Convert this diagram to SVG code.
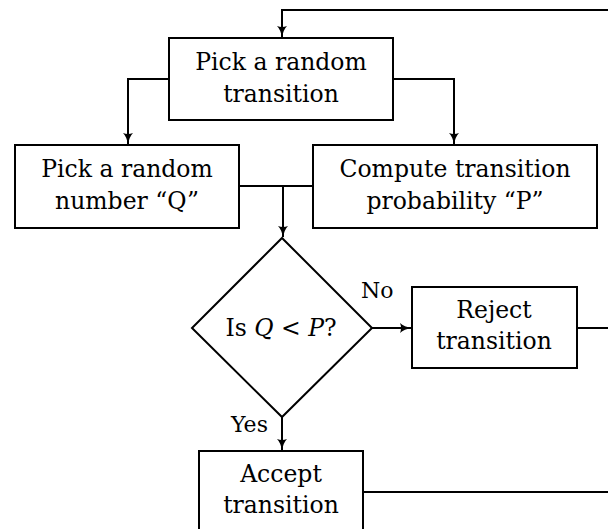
<svg xmlns="http://www.w3.org/2000/svg" width="608" height="529" viewBox="0 0 608 529">
<style>
.box{fill:#fff;stroke:#000;stroke-width:2}
.t{font-family:"DejaVu Serif","Liberation Serif",serif;font-size:23.5px;fill:#000;text-anchor:middle}
.lbl{font-family:"DejaVu Serif","Liberation Serif",serif;font-size:22px;fill:#000}
.c{fill:none;stroke:#000;stroke-width:2}
</style>
<defs>
<marker id="ar" viewBox="0 0 12 10" refX="11" refY="5" markerWidth="12" markerHeight="10" markerUnits="userSpaceOnUse" orient="auto">
<path d="M0,0 Q4,4 12,5 Q4,6 0,10 Q2,5 0,0 Z" fill="#000"/>
</marker>
</defs>
<g id="connectors">
<path class="c" d="M608,10 H282 V37" marker-end="url(#ar)"/>
<path class="c" d="M169,79 H128 V144" marker-end="url(#ar)"/>
<path class="c" d="M393,79 H454 V144" marker-end="url(#ar)"/>
<path class="c" d="M239,186 H313"/>
<path class="c" d="M283,186 V237" marker-end="url(#ar)"/>
<path class="c" d="M372,328 H411" marker-end="url(#ar)"/>
<path class="c" d="M577,328 H608"/>
<path class="c" d="M282,417 V450" marker-end="url(#ar)"/>
<path class="c" d="M363,492 H608"/>
<text class="lbl" x="361" y="298">No</text>
<text class="lbl" x="231" y="432">Yes</text>
</g>
<g id="pick-transition">
<rect class="box" x="169" y="38" width="224" height="82"/>
<text class="t" x="281" y="70">Pick a random</text>
<text class="t" x="281" y="102">transition</text>
</g>
<g id="pick-number">
<rect class="box" x="15" y="145" width="224" height="83"/>
<text class="t" x="127" y="177">Pick a random</text>
<text class="t" x="127" y="209">number “Q”</text>
</g>
<g id="compute-probability">
<rect class="box" x="313" y="145" width="284" height="83"/>
<text class="t" x="455" y="177">Compute transition</text>
<text class="t" x="455" y="209">probability “P”</text>
</g>
<g id="decision">
<polygon class="box" points="282,238 372,328 282,417 192,328"/>
<text class="t" x="281" y="336">Is <tspan font-style="italic">Q</tspan> &lt; <tspan font-style="italic">P</tspan>?</text>
</g>
<g id="reject">
<rect class="box" x="412" y="287" width="165" height="81"/>
<text class="t" x="494" y="318">Reject</text>
<text class="t" x="494" y="349">transition</text>
</g>
<g id="accept">
<rect class="box" x="199" y="451" width="164" height="100"/>
<text class="t" x="281" y="482">Accept</text>
<text class="t" x="281" y="513">transition</text>
</g>
</svg>
